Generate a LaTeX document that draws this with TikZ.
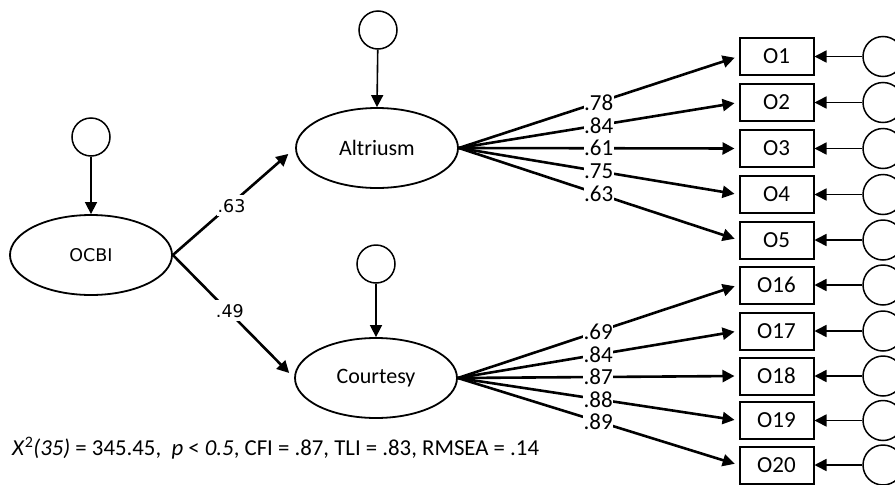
\documentclass[tikz,border=0pt]{standalone}
\usepackage{fontspec}
\setmainfont{Carlito}
\newfontfamily\dejavu{DejaVu Sans}
\usetikzlibrary{arrows.meta,shapes.geometric}
\begin{document}
\begin{tikzpicture}[x=1pt,y=-1pt,
  latent/.style={draw, ellipse, line width=1.8pt, minimum width=162pt,
    minimum height=80pt, inner sep=0pt},
  errc/.style={draw, circle, line width=1.5pt, minimum size=38pt, inner sep=0pt},
  obs/.style={draw, rectangle, line width=2pt, minimum width=74pt,
    minimum height=37pt, inner sep=0pt, font=\fontsize{23}{25}\selectfont},
  tip/.style={-{Triangle[length=12pt,width=12pt]}},
  path/.style={tip, line width=2.6pt},
  load/.style={tip, line width=2.6pt, shorten >=4pt},
  err/.style={tip, line width=1.6pt},
  lbl/.style={fill=white, inner sep=0.5pt, font=\fontsize{23}{25}\selectfont},
  plbl/.style={fill=white, inner xsep=1pt, inner ysep=4pt, font=\dejavu\fontsize{17.5}{20}\selectfont}]
\useasboundingbox (0,0) rectangle (895,485);
\clip (0,0) rectangle (895,485);

% latent factors
\node[latent, font=\dejavu\fontsize{17.5}{20}\selectfont] (ocbi) at (91,255) {OCBI};
\node[latent, font=\fontsize{22}{24}\selectfont] (alt) at (377,148) {Altriusm};
\node[latent, font=\fontsize{22}{24}\selectfont] (cou) at (376,378) {Courtesy};

% disturbances of the latent factors
\node[errc] (eocbi) at (91,137) {};
\node[errc] (ealt) at (378,30) {};
\node[errc] (ecou) at (376,264) {};
\draw[err] (eocbi) -- (ocbi.north);
\draw[err] (ealt) -- (alt.north);
\draw[err] (ecou) -- (cou.north);

% second-order paths
\draw[path, shorten >=9pt] (ocbi.east) -- node[plbl, pos=0.48, yshift=-2pt] {.63} (alt.west);
\draw[path, shorten >=7pt] (ocbi.east) -- node[plbl, pos=0.47, yshift=2pt] {.49} (cou.west);

% indicators with their error terms
\foreach \n/\y in {O1/56.5, O2/102.5, O3/148.5, O4/194.5, O5/240,
                   O16/285, O17/331, O18/376, O19/420.5, O20/465} {
  \node[obs] (\n) at (776.5,\y) {\n};
  \node[errc, minimum size=40pt] (e\n) at (883,\y) {};
  \draw[err] (e\n) -- (\n.east);
}

% loadings of Altriusm
\foreach \n/\v in {O1/.78, O2/.84, O3/.61, O4/.75, O5/.63}
  \draw[load] (alt.east) -- node[lbl, pos=0.5] {\v} (\n.west);

% loadings of Courtesy
\foreach \n/\v in {O16/.69, O17/.84, O18/.87, O19/.88, O20/.89}
  \draw[load] (cou.east) -- node[lbl, pos=0.5] {\v} (\n.west);

% fit indices
\node[anchor=west, inner sep=0pt, font=\fontsize{22.8}{25}\selectfont] (fit) at (12,448)
  {\textit{X}\textsuperscript{2}\textit{(35)} = 345.45,\ \ \textit{p} < \textit{0.5}, CFI = .87, TLI = .83, RMSEA = .14};
\end{tikzpicture}
\end{document}
